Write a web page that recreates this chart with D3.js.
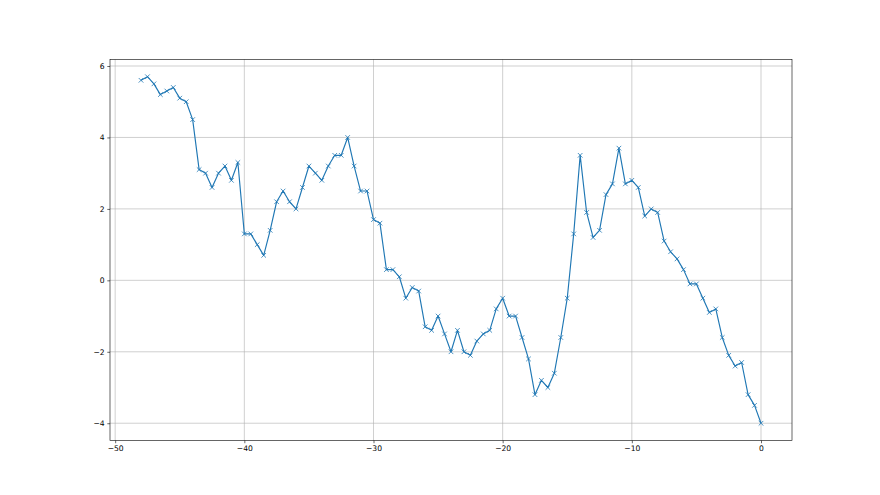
<!DOCTYPE html>
<html lang="en">
<head>
    <meta charset="UTF-8">
    <title>Line chart</title>
    <script src="https://cdn.jsdelivr.net/npm/d3@7"></script>
    <style>
        body { margin: 0; background: white; }
        .tick text { font-family: "DejaVu Sans", sans-serif; font-size: 7.6px; fill: #000; }
        .grid line { stroke: #b0b0b0; stroke-width: 0.6; }
    </style>
</head>
<body>
<script>
    // x positions every half unit, from -48 to 0
    const xs = d3.range(-48, 0.001, 0.5);
    const values = [
        5.6, 5.7, 5.5, 5.2, 5.3, 5.4, 5.1, 5.0, 4.5, 3.1, 3.0, 2.6, 3.0, 3.2, 2.8, 3.3,
        1.3, 1.3, 1.0, 0.7, 1.4, 2.2, 2.5, 2.2, 2.0, 2.6, 3.2, 3.0, 2.8, 3.2, 3.5, 3.5, 4.0, 3.2, 2.5, 2.5,
        1.7, 1.6, 0.3, 0.3, 0.1, -0.5, -0.2, -0.3, -1.3, -1.4, -1.0, -1.5, -2.0, -1.4, -2.0, -2.1, -1.7, -1.5, -1.4, -0.8,
        -0.5, -1.0, -1.0, -1.6, -2.2, -3.2, -2.8, -3.0, -2.6, -1.6, -0.5, 1.3, 3.5, 1.9, 1.2, 1.4, 2.4, 2.7, 3.7, 2.7,
        2.8, 2.6, 1.8, 2.0, 1.9, 1.1, 0.8, 0.6, 0.3, -0.1, -0.1, -0.5, -0.9, -0.8, -1.6, -2.1, -2.4, -2.3, -3.2, -3.5, -4.0
    ];
    const xTicks = [-50, -40, -30, -20, -10, 0];
    const yTicks = [-4, -2, 0, 2, 4, 6];

    const data = xs.map((x, i) => ({x: x, y: values[i]}));

    const width = 880, height = 495;
    const plotLeft = 110, plotRight = 792, plotTop = 59.4, plotBottom = 440.55;

    const svg = d3.select("body").append("svg")
                  .attr("width", width)
                  .attr("height", height);

    // matplotlib style 5% margins
    const xMin = d3.min(xs), xMax = d3.max(xs);
    const yMin = d3.min(values), yMax = d3.max(values);
    const xPad = (xMax - xMin) * 0.05, yPad = (yMax - yMin) * 0.05;

    const x = d3.scaleLinear().domain([xMin - xPad, xMax + xPad]).range([plotLeft, plotRight]);
    const y = d3.scaleLinear().domain([yMin - yPad, yMax + yPad]).range([plotBottom, plotTop]);

    const fmt = d => d < 0 ? "\u2212" + Math.abs(d) : String(d);

    // grid
    svg.append("g").attr("class", "grid")
       .selectAll("line.v").data(xTicks).join("line")
       .attr("x1", d => x(d)).attr("x2", d => x(d))
       .attr("y1", plotTop).attr("y2", plotBottom);
    svg.append("g").attr("class", "grid")
       .selectAll("line.h").data(yTicks).join("line")
       .attr("x1", plotLeft).attr("x2", plotRight)
       .attr("y1", d => y(d)).attr("y2", d => y(d));

    // axes
    const xAxis = svg.append("g")
       .attr("transform", `translate(0,${plotBottom})`)
       .call(d3.axisBottom(x).tickValues(xTicks).tickFormat(fmt).tickSizeOuter(0).tickSize(2.7).tickPadding(2.7));
    const yAxis = svg.append("g")
       .attr("transform", `translate(${plotLeft},0)`)
       .call(d3.axisLeft(y).tickValues(yTicks).tickFormat(fmt).tickSizeOuter(0).tickSize(2.7).tickPadding(2.7));
    [xAxis, yAxis].forEach(a => {
        a.select(".domain").remove();
        a.selectAll(".tick line").attr("stroke", "#000").attr("stroke-width", 0.6);
    });

    // line
    svg.append("path")
       .datum(data)
       .attr("fill", "none")
       .attr("stroke", "#1f77b4")
       .attr("stroke-width", 1.15)
       .attr("stroke-linejoin", "round")
       .attr("d", d3.line().x(d => x(d.x)).y(d => y(d.y)));

    // x markers
    const m = 2.3;
    svg.append("g").selectAll("path.mark").data(data).join("path")
       .attr("class", "mark")
       .attr("fill", "none")
       .attr("stroke", "#1f77b4")
       .attr("stroke-width", 0.8)
       .attr("d", d => {
           const cx = x(d.x), cy = y(d.y);
           return `M${cx - m},${cy - m}L${cx + m},${cy + m}M${cx - m},${cy + m}L${cx + m},${cy - m}`;
       });

    // frame
    svg.append("rect")
       .attr("x", plotLeft).attr("y", plotTop)
       .attr("width", plotRight - plotLeft).attr("height", plotBottom - plotTop)
       .attr("fill", "none")
       .attr("stroke", "#000")
       .attr("stroke-width", 0.6);
</script>
</body>
</html>
